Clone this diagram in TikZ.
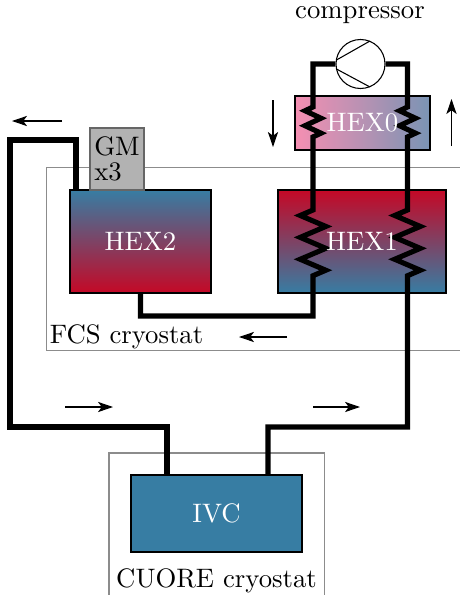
\documentclass[tikz,border=0pt]{standalone}
\usetikzlibrary{arrows.meta,decorations.pathmorphing}
\definecolor{coldblue}{RGB}{55,125,163}
\definecolor{warmred}{RGB}{197,8,38}
\definecolor{lightpink}{RGB}{245,143,178}
\definecolor{lightblue}{RGB}{122,148,180}
\tikzset{
    cryobox/.style={draw=black!45,line width=0.4pt,inner sep=0cm},
    hexbox/.style={draw=black,line width=0.4pt,inner sep=0cm},
    hexlabel/.style={text=white,inner sep=0cm},
    pipe/.style={line width=1.9pt,line join=miter},
    coilbig/.style={decoration={zigzag,amplitude=4.8pt,segment length=8.2pt,mirror}},
    coilsmall/.style={decoration={zigzag,amplitude=3pt,segment length=5.6pt,mirror}},
    flow/.style={-{Stealth[length=5.6pt,width=3.8pt,inset=1.4pt]},line width=0.4pt},
}
\begin{document}
\begin{tikzpicture}[x=0.3744pt,y=-0.3744pt]
    \clip (0,0) rectangle (460,595);
    % cryostats
    \node[cryobox,minimum width=5.97cm,minimum height=2.42cm] at (273,259) (FCS) {};
    \node[cryobox,minimum width=2.83cm,minimum height=2.46cm] at (216.5,546.5) (CUORE) {};
    \node[] at (126.5,337) (FCSL) {FCS cryostat};
    \node[] at (216.5,581) (CUOREL) {CUORE cryostat};
    % heat exchangers
    \node[hexbox,left color=lightpink,right color=lightblue,minimum width=1.776cm,minimum height=0.71cm] at (362.5,123) (HEX0) {};
    \node[hexbox,top color=warmred,bottom color=coldblue,minimum width=2.21cm,minimum height=1.355cm] at (362,241.5) (HEX1) {};
    \node[hexbox,top color=coldblue,bottom color=warmred,minimum width=1.855cm,minimum height=1.355cm] at (140.5,241.5) (HEX2) {};
    \node[draw=black!60,fill=black!30,line width=0.4pt,inner sep=0cm,minimum width=0.71cm,minimum height=0.816cm,align=left] at (117,159) (GM) {GM\\[-2.6pt]x3};
    \node[hexbox,fill=coldblue,minimum width=2.25cm,minimum height=1.013cm] at (216.5,513.5) (IVC) {};
    % pipe corners
    \coordinate (CL) at (313,64);
    \coordinate (CR) at (407.5,64);
    \coordinate (HL) at (313,316);
    \coordinate (IR) at (407.5,427);
    \coordinate (IRB) at (268,427);
    \coordinate (GL) at (76,140);
    \coordinate (GO) at (10,140);
    \coordinate (IO) at (10,427);
    \coordinate (ILB) at (167,427);
    \coordinate (C0L) at (313,107);
    \coordinate (C0LE) at (313,143);
    \coordinate (C1L) at (313,210);
    \coordinate (C1LE) at (313,278);
    \coordinate (C0R) at (407.5,107);
    \coordinate (C0RE) at (407.5,143);
    \coordinate (C1R) at (407.5,210);
    \coordinate (C1RE) at (407.5,278);
    \node[circle,draw=black,fill=white,line width=0.4pt,minimum size=0.645cm,inner sep=0cm] at (360.5,64) (COMP) {};
    \draw[pipe] (COMP.west) -- (CL) -- (C0L) decorate[coilsmall] {-- (C0LE)} -- (C1L) decorate[coilbig] {-- (C1LE)} -- (HL) -| (HEX2.south);
    \draw[pipe] (COMP.east) -- (CR) -- (C0R) decorate[coilsmall] {-- (C0RE)} -- (C1R) decorate[coilbig] {-- (C1RE)} -- (IR) -- (IRB) -- (IRB |- IVC.north);
    \draw[pipe] (GL |- HEX2.north) -- (GL) -- (GO) -- (IO) -- (ILB) -- (ILB |- IVC.north);
    % compressor
    \draw[line width=0.4pt] (COMP.west) ++(1,-4) -- (370,41);
    \draw[line width=0.4pt] (COMP.west) ++(1,5) -- (370,87);
    \node[] at (360,15) (COMPL) {compressor};
    % labels over the pipes
    \node[hexlabel] at (HEX0) (HEX0L) {HEX0};
    \node[hexlabel] at (HEX1) (HEX1L) {HEX1};
    \node[hexlabel] at (HEX2) (HEX2L) {HEX2};
    \node[hexlabel] at (IVC) (IVCL) {IVC};
    % flow direction
    \coordinate (A1S) at (62,121);
    \coordinate (A1E) at (12,121);
    \coordinate (A2S) at (273,100);
    \coordinate (A2E) at (273,147);
    \coordinate (A3S) at (451.5,146);
    \coordinate (A3E) at (451.5,99);
    \coordinate (A4S) at (287,337);
    \coordinate (A4E) at (239,337);
    \coordinate (A5S) at (65,407);
    \coordinate (A5E) at (113,407);
    \coordinate (A6S) at (313,407);
    \coordinate (A6E) at (360,407);
    \draw[flow] (A1S) -- (A1E);
    \draw[flow] (A2S) -- (A2E);
    \draw[flow] (A3S) -- (A3E);
    \draw[flow] (A4S) -- (A4E);
    \draw[flow] (A5S) -- (A5E);
    \draw[flow] (A6S) -- (A6E);
\end{tikzpicture}
\end{document}
